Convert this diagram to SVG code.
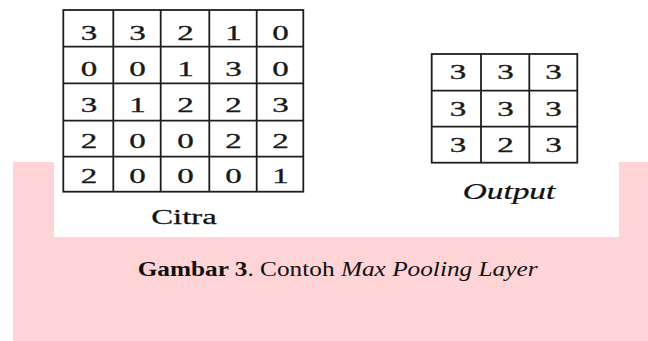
<svg xmlns="http://www.w3.org/2000/svg" width="648" height="341" viewBox="0 0 648 341">
<style>
.g{fill:none;stroke:#1e1e1e;stroke-width:1.8}
.f{font-family:"Liberation Serif","Times New Roman",serif}
.d{font-size:22px;fill:#1a1a1a;stroke:#1a1a1a;stroke-width:0.35;text-anchor:middle}
.lbl{fill:#111;stroke:#111;stroke-width:0.25;text-anchor:middle}
</style>
<rect x="13" y="162" width="635" height="179" fill="#ffd4d7"/>
<rect x="54" y="0" width="565" height="237" fill="#ffffff"/>
<g id="citra">
<rect class="g" x="63.3" y="10" width="240" height="181.7"/>
<path class="g" d="M113.3 10V191.7M160.7 10V191.7M209.3 10V191.7M256.7 10V191.7M63.3 46.7H303.3M63.3 83.3H303.3M63.3 120.7H303.3M63.3 156.7H303.3"/>
<g class="d f">
<text transform="matrix(1.5 0 0 1 89 39.5)">3</text>
<text transform="matrix(1.5 0 0 1 137.5 39.5)">3</text>
<text transform="matrix(1.5 0 0 1 185.5 39.5)">2</text>
<text transform="matrix(1.5 0 0 1 233.5 39.5)">1</text>
<text transform="matrix(1.5 0 0 1 280.5 39.5)">0</text>
<text transform="matrix(1.5 0 0 1 89 76)">0</text>
<text transform="matrix(1.5 0 0 1 137.5 76)">0</text>
<text transform="matrix(1.5 0 0 1 185.5 76)">1</text>
<text transform="matrix(1.5 0 0 1 233.5 76)">3</text>
<text transform="matrix(1.5 0 0 1 280.5 76)">0</text>
<text transform="matrix(1.5 0 0 1 89 111.7)">3</text>
<text transform="matrix(1.5 0 0 1 137.5 111.7)">1</text>
<text transform="matrix(1.5 0 0 1 185.5 111.7)">2</text>
<text transform="matrix(1.5 0 0 1 233.5 111.7)">2</text>
<text transform="matrix(1.5 0 0 1 280.5 111.7)">3</text>
<text transform="matrix(1.5 0 0 1 89 148.3)">2</text>
<text transform="matrix(1.5 0 0 1 137.5 148.3)">0</text>
<text transform="matrix(1.5 0 0 1 185.5 148.3)">0</text>
<text transform="matrix(1.5 0 0 1 233.5 148.3)">2</text>
<text transform="matrix(1.5 0 0 1 280.5 148.3)">2</text>
<text transform="matrix(1.5 0 0 1 89 183.3)">2</text>
<text transform="matrix(1.5 0 0 1 137.5 183.3)">0</text>
<text transform="matrix(1.5 0 0 1 185.5 183.3)">0</text>
<text transform="matrix(1.5 0 0 1 233.5 183.3)">0</text>
<text transform="matrix(1.5 0 0 1 280.5 183.3)">1</text>
</g>
<text class="lbl f" transform="matrix(1.6 0 0 1 184 224)" font-size="20.5">Citra</text>
</g>
<g id="output">
<rect class="g" x="431.7" y="54" width="145.6" height="108.7"/>
<path class="g" d="M481 54V162.7M529.3 54V162.7M431.7 90.7H577.3M431.7 126.7H577.3"/>
<g class="d f">
<text transform="matrix(1.5 0 0 1 458 79)">3</text>
<text transform="matrix(1.5 0 0 1 505.5 79)">3</text>
<text transform="matrix(1.5 0 0 1 553.5 79)">3</text>
<text transform="matrix(1.5 0 0 1 458 115.7)">3</text>
<text transform="matrix(1.5 0 0 1 505.5 115.7)">3</text>
<text transform="matrix(1.5 0 0 1 553.5 115.7)">3</text>
<text transform="matrix(1.5 0 0 1 458 151.7)">3</text>
<text transform="matrix(1.5 0 0 1 505.5 151.7)">2</text>
<text transform="matrix(1.5 0 0 1 553.5 151.7)">3</text>
</g>
<text class="lbl f" transform="matrix(1.45 0 0 1 509 199)" font-size="23" font-style="italic">Output</text>
</g>
<text id="caption" class="f" transform="matrix(1.15 0 0 1 137.7 275.7)" font-size="22" fill="#111"><tspan font-weight="bold">Gambar 3</tspan>. Contoh <tspan font-style="italic">Max Pooling Layer</tspan></text>
</svg>
